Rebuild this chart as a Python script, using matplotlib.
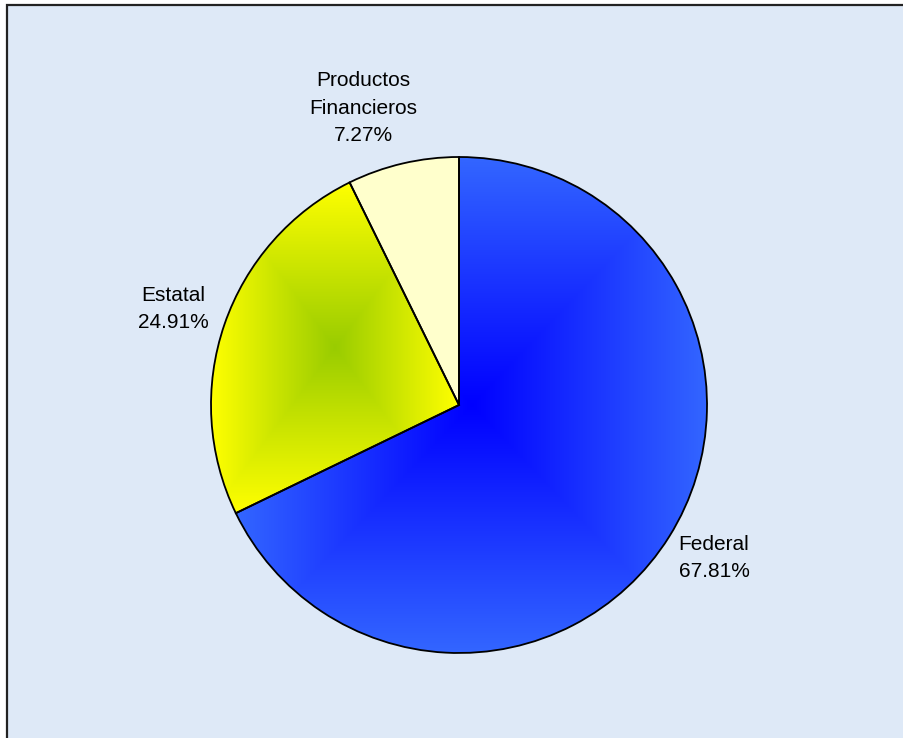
import numpy as np
import matplotlib
matplotlib.use("Agg")
import matplotlib.pyplot as plt
from matplotlib.patches import Rectangle
from matplotlib.colors import to_rgb

plt.rcParams['font.family'] = ['Liberation Sans', 'DejaVu Sans']

# Revenue sources (percent of total)
categories = ["Federal", "Estatal", "Productos\nFinancieros"]
shares = [67.81, 24.91, 7.27]

# Fill styles: (center colour, edge colour) for gradient slices, single colour otherwise
fills = [("#0000FF", "#3366FF"), ("#99CC00", "#FFFF00"), ("#FFFFCC", "#FFFFCC")]

W, H = 904, 738
fig = plt.figure(figsize=(W / 100, H / 100), dpi=100)
ax = fig.add_axes([0, 0, 1, 1])
ax.set_xlim(0, W)
ax.set_ylim(0, H)
ax.set_aspect('equal')
ax.axis('off')

# Chart area with light blue paper-like background; border visible on top and left
ax.add_patch(Rectangle((7, 0), W - 7, H - 5, facecolor="#DEE9F7",
                       edgecolor="none", zorder=0))
ax.plot([7, 7, W], [0, H - 5, H - 5], color="#222222", linewidth=1.6,
        solid_joinstyle='miter', zorder=1)

cx, cy, R = 459, 738 - 405, 248
wedges, _ = ax.pie(shares, startangle=90, counterclock=False, center=(cx, cy),
                   radius=R, colors=[f[1] for f in fills],
                   wedgeprops=dict(edgecolor="none", linewidth=0), frame=True)
ax.set_xlim(0, W)
ax.set_ylim(0, H)
ax.axis('off')


def rect_gradient(wedge, c_in, c_out):
    th = np.radians(np.linspace(wedge.theta1, wedge.theta2, 400))
    xs = np.concatenate([[cx], cx + R * np.cos(th)])
    ys = np.concatenate([[cy], cy + R * np.sin(th)])
    x0, x1, y0, y1 = xs.min(), xs.max(), ys.min(), ys.max()
    mx, my = (x0 + x1) / 2, (y0 + y1) / 2
    gx, gy = np.meshgrid(np.linspace(x0, x1, 400), np.linspace(y0, y1, 400))
    t = np.maximum(np.abs(gx - mx) / ((x1 - x0) / 2), np.abs(gy - my) / ((y1 - y0) / 2))
    t = np.clip(t, 0, 1)[..., None]
    img = np.array(to_rgb(c_in)) * (1 - t) + np.array(to_rgb(c_out)) * t
    im = ax.imshow(img, extent=(x0, x1, y0, y1), origin='lower',
                   interpolation='bilinear', zorder=2)
    im.set_clip_path(wedge)


for w, (c_in, c_out) in zip(wedges, fills):
    if c_in != c_out:
        rect_gradient(w, c_in, c_out)

# Slice outlines on top
wedges2, _ = ax.pie(shares, startangle=90, counterclock=False, center=(cx, cy),
                    radius=R, colors=["none"] * 3,
                    wedgeprops=dict(edgecolor="black", linewidth=1.3), frame=True)
for w in wedges2:
    w.set_zorder(3)
ax.set_xlim(0, W)
ax.set_ylim(0, H)
ax.axis('off')

# Data labels: name and percentage
label_pos = [(714, 738 - 558), (173, 738 - 309), (363, 738 - 108)]
for name, val, (lx, ly) in zip(categories, shares, label_pos):
    ax.text(lx, ly, f"{name}\n{val:.2f}%", ha='center', va='center',
            fontsize=15, linespacing=1.55, color="black", zorder=4)

fig.savefig("out.png", dpi=100)
